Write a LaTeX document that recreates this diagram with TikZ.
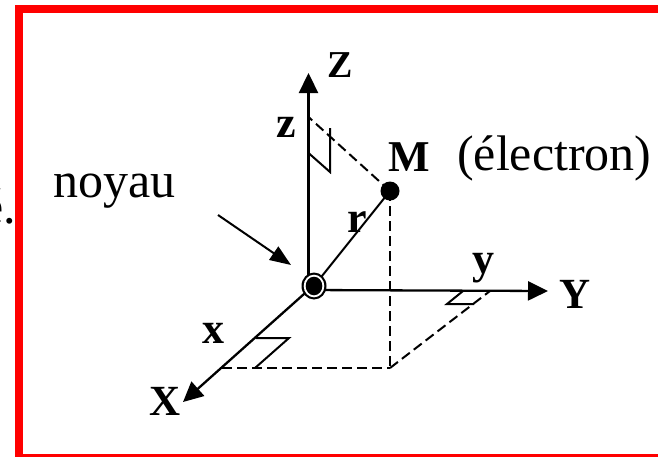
\documentclass[tikz,border=0pt]{standalone}
\usepackage{fontspec}
\setmainfont{Liberation Serif}
\usetikzlibrary{arrows.meta}
\tikzset{
  axis/.style={line width=2.3pt,-{Triangle[length=20pt,width=19pt]}},
  dsh/.style={line width=2pt,dash pattern=on 10pt off 5pt},
  rmark/.style={line width=2pt},
  lbl/.style={inner sep=0pt,anchor=base west},
  big/.style={font=\fontsize{50}{50}\selectfont},
  capl/.style={font=\fontsize{43}{43}\selectfont\bfseries},
  low/.style={font=\fontsize{44}{44}\selectfont\bfseries},
}
\begin{document}
\begin{tikzpicture}[x=1pt,y=-1pt]
\useasboundingbox (0,0) rectangle (658,456);
\fill[white] (0,0) rectangle (658,456);
% red frame
\draw[red,line width=8pt] (19,8.5) rectangle (662,458);
% key points
\coordinate (O) at (308.5,290);
\coordinate (C) at (314,286);
\coordinate (Ztip) at (308.5,73);
\coordinate (Ytip) at (548,291);
\coordinate (Xtip) at (183,402);
\coordinate (M) at (390,191);
\coordinate (P) at (390,368);
\coordinate (Xp) at (222,368);
\coordinate (Yp) at (490,291);
\coordinate (Zp) at (308.5,117);
\coordinate (NA) at (218,215);
\coordinate (NB) at (291,265);
% axes
\draw[axis] (O) -- (Ztip);
\draw[axis] (O) -- (Ytip);
\draw[axis] (O) -- (Xtip);
% r
\draw[line width=2pt] (C) -- (M);
% dashed projections
\draw[dsh] (M) -- (Zp);
\draw[dsh] (M) -- (P);
\draw[dsh] (Xp) -- (P);
\draw[dsh] (P) -- (Yp);
% right-angle markers
\draw[rmark] (308.5,153) -- (330,172) -- (330,128);
\draw[rmark] (256,338) -- (289,338) -- (255,368);
\draw[rmark] (463,291) -- (447,304) -- (474,304);
% electron
\fill (M) circle (9.5);
% nucleus
\fill (C) ellipse (12.5 and 13.5);
\fill[white] (C) ellipse (10.3 and 11.3);
\fill (C) ellipse (8.3 and 9.3);
% noyau arrow
\draw[line width=2pt,-{Triangle[length=21pt,width=16pt]}] (NA) -- (NB);
% labels
\node[lbl,big] (noyau) at (53,197) {noyau};
\node[lbl,big,anchor=base east] (frag) at (16,223) {é.};
\node[lbl,font=\fontsize{44}{44}\selectfont\bfseries] (Mlbl) at (388,171) {M};
\node[lbl,big] (elec) at (457,170) {(électron)};
\node[lbl,font=\fontsize{38}{38}\selectfont\bfseries] (Zlbl) at (327,77) {Z};
\node[lbl,low] (zlbl) at (276,137) {z};
\node[lbl,capl] (Ylbl) at (559,308) {Y};
\node[lbl,low] (ylbl) at (472,273) {y};
\node[lbl,low] (xlbl) at (202,343) {x};
\node[lbl,capl] (Xlbl) at (149,415) {X};
\node[lbl,low] (rlbl) at (347,232) {r};
\end{tikzpicture}
\end{document}
